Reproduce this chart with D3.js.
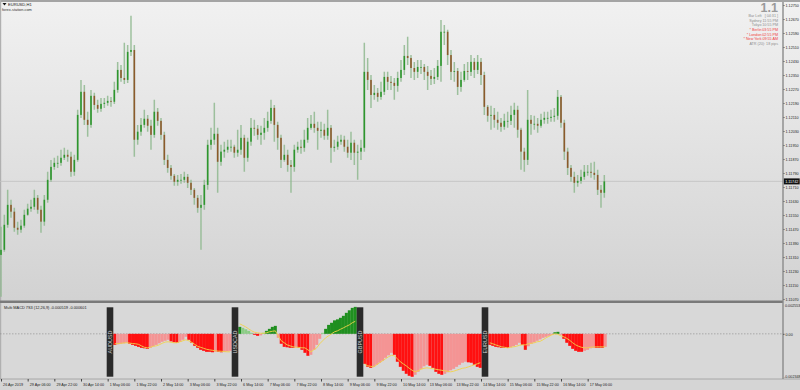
<!DOCTYPE html>
<html>
<head>
<meta charset="utf-8">
<script src="https://cdnjs.cloudflare.com/ajax/libs/d3/7.8.5/d3.min.js"></script>
<style>
  body { margin: 0; background: #d6d6d6; }
  svg { display: block; font-family: "Liberation Sans", Arial, sans-serif; }
</style>
</head>
<body>
<script>
// EURUSD H1, one bar per 2 hours
const firstOpen = 1.11322;
const lastPrice = 1.11742;

const closes = [
  1.11351,1.11494,1.11608,1.11569,1.11477,1.11466,1.11489,1.11551,1.11586,1.11597,
  1.11648,1.11580,1.11512,1.11637,1.11751,1.11825,1.11848,1.11848,1.11877,1.11894,
  1.11883,1.11797,1.11865,1.12122,1.12254,1.12094,1.12065,1.12231,1.12179,1.12157,
  1.12185,1.12191,1.12202,1.12197,1.12265,1.12379,1.12333,1.12322,1.12482,1.12493,
  1.11980,1.12026,1.12065,1.12100,1.12060,1.12008,1.12140,1.12088,1.12008,1.11865,
  1.11819,1.11774,1.11740,1.11751,1.11751,1.11768,1.11734,1.11694,1.11648,1.11591,
  1.11608,1.11722,1.11951,1.11980,1.12014,1.11854,1.11912,1.11923,1.11940,1.11940,
  1.11906,1.11923,1.11991,1.11877,1.11969,1.12048,1.12043,1.12008,1.12020,1.12048,
  1.12088,1.12162,1.12065,1.11991,1.11865,1.11894,1.11836,1.11825,1.11923,1.11940,
  1.11934,1.11980,1.12048,1.12071,1.12048,1.12031,1.12037,1.12003,1.12048,1.11934,
  1.11940,1.11969,1.11980,1.11940,1.11906,1.11963,1.11906,1.11912,1.11934,1.12368,
  1.12322,1.12236,1.12248,1.12225,1.12254,1.12339,1.12311,1.12305,1.12288,1.12333,
  1.12379,1.12459,1.12447,1.12390,1.12368,1.12396,1.12396,1.12368,1.12345,1.12328,
  1.12339,1.12402,1.12597,1.12597,1.12464,1.12368,1.12373,1.12282,1.12322,1.12373,
  1.12368,1.12425,1.12379,1.12425,1.12350,1.12168,1.12117,1.12122,1.12094,1.12077,
  1.12054,1.12088,1.12088,1.12122,1.12151,1.12037,1.11912,1.11865,1.12094,1.12071,
  1.12071,1.12060,1.12094,1.12105,1.12105,1.12111,1.12117,1.12225,1.12077,1.11912,
  1.11819,1.11768,1.11734,1.11745,1.11768,1.11797,1.11797,1.11791,1.11779,1.11694,
  1.11677,1.11742
];

const highs = [
  1.11483,1.11551,1.11694,1.11637,1.11591,1.11512,1.11523,1.11580,1.11614,1.11637,
  1.11694,1.11665,1.11603,1.11665,1.11797,1.11865,1.11877,1.11889,1.11923,1.11934,
  1.11923,1.11912,1.11894,1.12151,1.12322,1.12293,1.12140,1.12265,1.12248,1.12208,
  1.12219,1.12219,1.12231,1.12225,1.12311,1.12425,1.12407,1.12534,1.12522,1.12688,
  1.12522,1.12065,1.12105,1.12151,1.12122,1.12094,1.12208,1.12162,1.12105,1.12026,
  1.11894,1.11836,1.11785,1.11779,1.11785,1.11797,1.11785,1.11751,1.11705,1.11665,
  1.11665,1.11751,1.11980,1.12048,1.12191,1.12048,1.11951,1.11969,1.11980,1.11980,
  1.11951,1.12037,1.12065,1.12008,1.11991,1.12105,1.12094,1.12065,1.12060,1.12105,
  1.12140,1.12208,1.12179,1.12083,1.12008,1.11951,1.11923,1.11865,1.11951,1.11969,
  1.11980,1.12037,1.12105,1.12122,1.12140,1.12083,1.12083,1.12071,1.12151,1.12065,
  1.11980,1.12003,1.12008,1.12003,1.11980,1.12026,1.11980,1.11951,1.11980,1.12534,
  1.12447,1.12350,1.12293,1.12276,1.12311,1.12368,1.12368,1.12345,1.12333,1.12368,
  1.12436,1.12522,1.12568,1.12464,1.12425,1.12436,1.12436,1.12413,1.12402,1.12379,
  1.12390,1.12436,1.12665,1.12636,1.12608,1.12493,1.12425,1.12390,1.12368,1.12413,
  1.12425,1.12464,1.12447,1.12464,1.12447,1.12368,1.12179,1.12174,1.12162,1.12140,
  1.12105,1.12128,1.12140,1.12174,1.12191,1.12174,1.12048,1.11934,1.12265,1.12122,
  1.12117,1.12105,1.12128,1.12140,1.12140,1.12151,1.12162,1.12265,1.12236,1.12094,
  1.11934,1.11836,1.11797,1.11779,1.11808,1.11836,1.11836,1.11848,1.11854,1.11808,
  1.11722,1.11779
];

const lows = [
  1.11083,1.11340,1.11477,1.11534,1.11455,1.11437,1.11449,1.11477,1.11546,1.11569,
  1.11580,1.11557,1.11449,1.11489,1.11620,1.11740,1.11808,1.11819,1.11831,1.11865,
  1.11854,1.11768,1.11774,1.11854,1.12105,1.12065,1.11997,1.12048,1.12151,1.12134,
  1.12140,1.12162,1.12174,1.12168,1.12185,1.12248,1.12311,1.12299,1.12305,1.12459,
  1.11883,1.11951,1.12003,1.12048,1.12026,1.11923,1.11991,1.12060,1.11980,1.11836,
  1.11791,1.11751,1.11717,1.11717,1.11728,1.11734,1.11705,1.11665,1.11608,1.11563,
  1.11351,1.11580,1.11694,1.11923,1.11951,1.11677,1.11831,1.11877,1.11906,1.11912,
  1.11877,1.11883,1.11894,1.11797,1.11854,1.11946,1.12003,1.11980,1.11951,1.11980,
  1.12026,1.12071,1.11969,1.11923,1.11819,1.11854,1.11797,1.11677,1.11797,1.11906,
  1.11900,1.11912,1.11963,1.12037,1.12020,1.11923,1.11991,1.11980,1.11980,1.11848,
  1.11912,1.11923,1.11951,1.11912,1.11877,1.11865,1.11836,1.11751,1.11865,1.11912,
  1.12265,1.12162,1.12208,1.12197,1.12208,1.12236,1.12265,1.12265,1.12208,1.12254,
  1.12311,1.12350,1.12407,1.12333,1.12322,1.12333,1.12356,1.12322,1.12265,1.12293,
  1.12299,1.12322,1.12311,1.12522,1.12407,1.12322,1.12311,1.12236,1.12254,1.12311,
  1.12322,1.12345,1.12333,1.12356,1.12293,1.12122,1.12083,1.12037,1.12048,1.12037,
  1.12026,1.12037,1.12048,1.12065,1.12048,1.11991,1.11808,1.11797,1.11836,1.12008,
  1.12037,1.12020,1.12048,1.12071,1.12071,1.12083,1.12083,1.12094,1.12048,1.11865,
  1.11779,1.11740,1.11677,1.11711,1.11728,1.11751,1.11774,1.11763,1.11751,1.11665,
  1.11591,1.11648
];

const priceTicks = [
  1.12750,1.12670,1.12590,1.12510,1.12430,1.12350,1.12270,1.12190,1.12110,1.12030,1.11950,
  1.11870,1.11790,1.11710,1.11630,1.11550,1.11470,1.11390,1.11310,1.11230,1.11150,1.11070
];

const timeLabels = [
  "26 Apr 2019","29 Apr 06:00","29 Apr 22:00","30 Apr 14:00","1 May 06:00","1 May 22:00",
  "2 May 14:00","3 May 06:00","3 May 22:00","6 May 14:00","7 May 06:00","7 May 22:00",
  "8 May 14:00","9 May 06:00","9 May 22:00","10 May 14:00","13 May 06:00","13 May 22:00",
  "14 May 14:00","15 May 06:00","15 May 22:00","16 May 14:00","17 May 06:00"
];

// Multi MACD sub window
const macdPairs = ["AUDUSD","USDCAD","GBPUSD","EURUSD"];
const audHist = [-0.00100,-0.00095,-0.00090,-0.00086,-0.00081,-0.00090,-0.00100,-0.00109,-0.00118,-0.00127,-0.00131,-0.00136,-0.00127,-0.00113,-0.00100,-0.00086,-0.00072,-0.00063,-0.00054,-0.00068,-0.00077,-0.00081,-0.00072,-0.00054,-0.00027,-0.00054,-0.00081,-0.00109,-0.00127,-0.00145,-0.00154,-0.00163,-0.00163,-0.00167,-0.00163,-0.00163,-0.00167,-0.00163,-0.00158,-0.00154];
const audSignal = [-0.00090,-0.00089,-0.00086,-0.00083,-0.00081,-0.00084,-0.00088,-0.00090,-0.00095,-0.00109,-0.00122,-0.00127,-0.00122,-0.00113,-0.00109,-0.00100,-0.00086,-0.00075,-0.00072,-0.00077,-0.00081,-0.00081,-0.00072,-0.00063,-0.00054,-0.00063,-0.00077,-0.00095,-0.00113,-0.00122,-0.00131,-0.00140,-0.00145,-0.00149,-0.00154,-0.00157,-0.00158,-0.00161,-0.00163,-0.00163];
const cadHist = [0.00063,0.00054,0.00041,0.00027,0.00009,-0.00009,-0.00018,-0.00014,0.00009,0.00027,0.00045,0.00063,0.00072,-0.00036,-0.00090,-0.00118,-0.00122,-0.00127,-0.00127,-0.00122,-0.00127,-0.00145,-0.00172,-0.00199,-0.00190,-0.00145,-0.00100,-0.00045,0.00009,0.00045,0.00081,0.00100,0.00122,0.00131,0.00145,0.00163,0.00190,0.00213,0.00235,0.00244];
const cadSignal = [0.00090,0.00077,0.00063,0.00045,0.00027,0.00014,0.00009,0.00005,0.00005,0.00009,0.00018,0.00023,0.00027,-0.00018,-0.00063,-0.00081,-0.00100,-0.00109,-0.00118,-0.00121,-0.00123,-0.00127,-0.00127,-0.00145,-0.00163,-0.00145,-0.00127,-0.00090,-0.00063,-0.00036,-0.00018,0.00000,0.00018,0.00027,0.00041,0.00054,0.00068,0.00081,0.00100,0.00113];
const gbpHist = [-0.00272,-0.00299,-0.00308,-0.00299,-0.00281,-0.00262,-0.00244,-0.00217,-0.00195,-0.00172,-0.00190,-0.00253,-0.00299,-0.00335,-0.00362,-0.00380,-0.00389,-0.00371,-0.00344,-0.00317,-0.00294,-0.00281,-0.00290,-0.00308,-0.00344,-0.00362,-0.00371,-0.00362,-0.00348,-0.00330,-0.00317,-0.00299,-0.00281,-0.00262,-0.00253,-0.00258,-0.00262,-0.00281,-0.00299,-0.00308];
const gbpSignal = [-0.00276,-0.00290,-0.00294,-0.00299,-0.00281,-0.00262,-0.00244,-0.00226,-0.00208,-0.00195,-0.00199,-0.00226,-0.00253,-0.00272,-0.00290,-0.00312,-0.00330,-0.00344,-0.00335,-0.00321,-0.00312,-0.00308,-0.00312,-0.00317,-0.00321,-0.00326,-0.00330,-0.00335,-0.00339,-0.00344,-0.00339,-0.00330,-0.00321,-0.00312,-0.00308,-0.00299,-0.00290,-0.00281,-0.00272,-0.00262];
const eurHist = [-0.00100,-0.00109,-0.00118,-0.00122,-0.00127,-0.00127,-0.00127,-0.00122,-0.00113,-0.00100,-0.00081,-0.00100,-0.00145,-0.00113,-0.00090,-0.00077,-0.00063,-0.00050,-0.00036,-0.00027,-0.00018,-0.00009,0.00014,0.00018,-0.00009,-0.00045,-0.00081,-0.00109,-0.00136,-0.00154,-0.00163,-0.00163,-0.00154,-0.00145,-0.00131,-0.00127,-0.00127,-0.00127,-0.00127,-0.00118];
const eurSignal = [-0.00081,-0.00090,-0.00100,-0.00109,-0.00118,-0.00122,-0.00127,-0.00122,-0.00118,-0.00113,-0.00104,-0.00100,-0.00100,-0.00090,-0.00086,-0.00081,-0.00072,-0.00068,-0.00054,-0.00036,-0.00023,-0.00009,0.00000,-0.00005,-0.00018,-0.00027,-0.00041,-0.00059,-0.00081,-0.00100,-0.00113,-0.00122,-0.00127,-0.00127,-0.00122,-0.00120,-0.00118,-0.00118,-0.00118,-0.00118];
const macdRangeLabels = ["0.002553", "-0.002348"];
const macdTitle = "Multi MACD 7S3 (12,26,9) -0.000519 -0.000601";

// info box (top right)
const sessionNames = ["Bar Left","Sydney","Tokyo","* Berlin","* London","* New York"];
const sessionTimes = ["[ 04:31 ]","11:55 PM","10:55 PM","03:55 PM","02:55 PM","09:55 AM"];
const sessionActive = [false,false,false,true,true,true];
const atrText = "ATR (20): 18 pips";

const W = 800, H = 390;
const axisX = 783;
const mainTop = 2, mainBottom = 300.5;
const subTop = 303, subBottom = 379;
const tiny = 3.7;

const svg = d3.select("body").append("svg").attr("width", W).attr("height", H);

const defs = svg.append("defs");
const grad = defs.append("linearGradient").attr("id", "bg")
  .attr("x1", 0).attr("x2", 0).attr("y1", 0).attr("y2", 1);
grad.append("stop").attr("offset", "0%").attr("stop-color", "#f1f1f1");
grad.append("stop").attr("offset", "100%").attr("stop-color", "#d2d2d2");
defs.append("clipPath").attr("id", "mainClip").append("rect")
  .attr("x", 0).attr("y", mainTop).attr("width", axisX).attr("height", mainBottom - mainTop);

// backgrounds
svg.append("rect").attr("width", W).attr("height", H).attr("fill", "#d5d5d5");
svg.append("rect").attr("x", 0).attr("y", mainTop).attr("width", W).attr("height", mainBottom - mainTop).attr("fill", "url(#bg)");
svg.append("rect").attr("x", 0).attr("y", subTop).attr("width", W).attr("height", subBottom - subTop).attr("fill", "#d8d8d8");
svg.append("rect").attr("x", 0).attr("y", 0).attr("width", W).attr("height", 2).attr("fill", "#a4a4a4");
svg.append("rect").attr("x", 0).attr("y", 0).attr("width", 1.2).attr("height", subBottom).attr("fill", "#b0b0b0");

// scales
const x = d3.scaleLinear().domain([0, closes.length - 1]).range([1, 1 + 3.3333 * (closes.length - 1)]);
const y = d3.scaleLinear().domain([1.11070, 1.12750]).range([299, 5]);
const yM = d3.scaleLinear().domain([-0.0040, 0.0027]).range([378, 304]);

// current price line
svg.append("line").attr("x1", 0).attr("x2", axisX).attr("y1", y(lastPrice)).attr("y2", y(lastPrice))
  .attr("stroke", "#c2c2c2").attr("stroke-width", 0.8);

// candles
const bars = closes.map((c, i) => ({ i, o: i ? closes[i - 1] : firstOpen, c, h: highs[i], l: lows[i] }));
const cg = svg.append("g").attr("clip-path", "url(#mainClip)");
cg.selectAll("line.wick").data(bars).join("line").attr("class", "wick")
  .attr("x1", d => x(d.i)).attr("x2", d => x(d.i))
  .attr("y1", d => y(d.h)).attr("y2", d => y(d.l))
  .attr("stroke", "#8fb88f").attr("stroke-width", 1.5).attr("stroke-opacity", 0.85);
cg.selectAll("rect.body").data(bars).join("rect").attr("class", "body")
  .attr("x", d => x(d.i) - 0.8).attr("width", 1.6)
  .attr("y", d => y(Math.max(d.o, d.c)))
  .attr("height", d => Math.max(0.8, Math.abs(y(d.o) - y(d.c))))
  .attr("fill", d => d.c >= d.o ? "#2e962e" : "#8c5a2c");

// title top-left
svg.append("path").attr("d", "M2.5,3 L6.5,3 L4.5,5.5 Z").attr("fill", "#111");
svg.append("text").attr("x", 8).attr("y", 6).attr("font-size", 4.1).attr("fill", "#222").text("EURUSD,H1");
svg.append("text").attr("x", 2).attr("y", 10.5).attr("font-size", 3.9).attr("fill", "#333").text("forex-station.com");

// info box top-right
svg.append("text").attr("x", 778).attr("y", 12).attr("text-anchor", "end")
  .attr("font-size", 12.5).attr("font-weight", "bold").attr("fill", "#9a9a9a").text("1.1");
const info = svg.append("g").attr("font-size", tiny);
sessionNames.forEach((name, i) => {
  const yy = 17.3 + i * 4.55;
  const col = sessionActive[i] ? "#f03c3c" : "#8e8e8e";
  info.append("text").attr("x", 761.5).attr("y", yy).attr("text-anchor", "end").attr("fill", col).text(name);
  info.append("text").attr("x", 778).attr("y", yy).attr("text-anchor", "end").attr("fill", col).text(sessionTimes[i]);
});
info.append("text").attr("x", 778).attr("y", 17.3 + 6 * 4.55).attr("text-anchor", "end").attr("fill", "#8e8e8e").text(atrText);

// price axis
const yAxis = d3.axisRight(y).tickValues(priceTicks).tickFormat(d3.format(".5f")).tickSize(1.5).tickPadding(1);
svg.append("g").attr("transform", `translate(${axisX},0)`).call(yAxis)
  .call(g => g.select(".domain").remove())
  .call(g => g.selectAll("text").attr("font-size", tiny).attr("fill", "#222").attr("font-family", "Liberation Sans, Arial, sans-serif"))
  .call(g => g.selectAll("line").attr("stroke", "#555"));

// current price box
svg.append("rect").attr("x", axisX + 0.7).attr("y", y(lastPrice) - 3).attr("width", 16).attr("height", 6).attr("fill", "#111");
svg.append("text").attr("x", axisX + 2.2).attr("y", y(lastPrice) + 1.3).attr("font-size", tiny).attr("fill", "#fff").text(lastPrice.toFixed(5));

// panel separators
svg.append("rect").attr("x", 0).attr("y", mainBottom).attr("width", axisX).attr("height", 2.5).attr("fill", "#7a7a7a");
svg.append("line").attr("x1", 0).attr("x2", W).attr("y1", subBottom).attr("y2", subBottom).attr("stroke", "#9c9c9c").attr("stroke-width", 0.8);
svg.append("line").attr("x1", axisX).attr("x2", axisX).attr("y1", mainTop).attr("y2", subBottom)
  .attr("stroke", "#8a8a8a").attr("stroke-width", 1.4);

// sub window: zero line and labels
svg.append("line").attr("x1", 0).attr("x2", axisX).attr("y1", yM(0)).attr("y2", yM(0))
  .attr("stroke", "#8a8a8a").attr("stroke-width", 0.6).attr("stroke-dasharray", "1.5,1.5");
svg.append("text").attr("x", 4).attr("y", 309.3).attr("font-size", 3.9).attr("fill", "#222").text(macdTitle);

const subAxis = d3.axisRight(yM).tickValues([0]).tickFormat(() => "0.00").tickSize(1.5).tickPadding(1);
svg.append("g").attr("transform", `translate(${axisX},0)`).call(subAxis)
  .call(g => g.select(".domain").remove())
  .call(g => g.selectAll("text").attr("font-size", tiny).attr("fill", "#222").attr("font-family", "Liberation Sans, Arial, sans-serif"))
  .call(g => g.selectAll("line").attr("stroke", "#555"));
svg.append("text").attr("x", axisX + 2).attr("y", 307.3).attr("font-size", tiny).attr("fill", "#222").text(macdRangeLabels[0]);
svg.append("text").attr("x", axisX + 1).attr("y", 378.3).attr("font-size", tiny).attr("fill", "#222").text(macdRangeLabels[1]);

// histogram segments
const macdHist = [audHist, cadHist, gbpHist, eurHist];
const macdSignal = [audSignal, cadSignal, gbpSignal, eurSignal];
const seg = d3.scaleBand().domain(macdPairs).range([106.7, 606.7]);
const labW = 6.6;

macdPairs.forEach((pair, s) => {
  const x0 = seg(pair);
  const inner = d3.scaleBand().domain(d3.range(macdHist[s].length)).range([x0 + labW, x0 + seg.bandwidth()]);
  const vals = macdHist[s];
  const g = svg.append("g");
  g.selectAll("rect").data(vals).join("rect")
    .attr("x", (d, i) => inner(i))
    .attr("width", inner.bandwidth() + 0.05)
    .attr("y", d => yM(Math.max(0, d)))
    .attr("height", d => Math.abs(yM(d) - yM(0)))
    .attr("fill", (d, i) => {
      const growing = i === 0 || Math.abs(d) >= Math.abs(vals[i - 1]);
      if (d >= 0) return growing ? "#1f8f1f" : "#8ccc86";
      return growing ? "#ff1010" : "#f49494";
    });
  const line = d3.line().x((d, i) => inner(i) + inner.bandwidth() / 2).y(d => yM(d));
  g.append("path").datum(macdSignal[s]).attr("d", line)
    .attr("fill", "none").attr("stroke", "#f2d24a").attr("stroke-width", 0.9);

  // pair label block
  g.append("rect").attr("x", x0).attr("y", 307.3).attr("width", labW).attr("height", 69.4).attr("fill", "#2a2a2a");
  g.append("text").attr("transform", `translate(${x0 + labW / 2 + 1.9},342) rotate(-90)`)
    .attr("text-anchor", "middle").attr("font-size", 5.4).attr("fill", "#cfcfcf").text(pair);
});

// time axis
const xAxis = d3.axisBottom(x).tickValues(timeLabels.map((t, i) => i * 8))
  .tickFormat((d, i) => timeLabels[i]).tickSize(2.5).tickPadding(1.8);
svg.append("g").attr("transform", `translate(0,${subBottom})`).call(xAxis)
  .call(g => g.select(".domain").remove())
  .call(g => g.selectAll("line").attr("stroke", "#444"))
  .call(g => g.selectAll("text").attr("text-anchor", "start").attr("dx", 1.6)
    .attr("font-size", tiny).attr("fill", "#222").attr("font-family", "Liberation Sans, Arial, sans-serif"));
</script>
</body>
</html>
